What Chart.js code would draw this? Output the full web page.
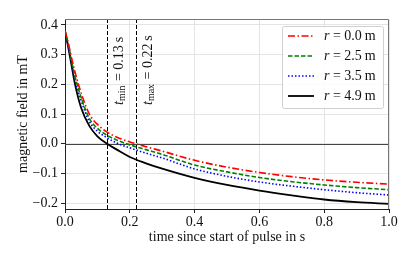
<!DOCTYPE html>
<html>
<head>
<meta charset="utf-8">
<script src="https://cdn.jsdelivr.net/npm/chart.js@4.4.1/dist/chart.umd.min.js"></script>
<style>
  html, body { margin: 0; padding: 0; background: #fff; }
  #wrap { width: 415px; height: 260px; }
</style>
</head>
<body>
<div id="wrap"><canvas id="chart"></canvas></div>
<script>
// time since start of pulse (s)
const times = [0, 0.01, 0.02, 0.03, 0.05, 0.075, 0.1, 0.13, 0.16, 0.2, 0.25, 0.3, 0.4, 0.5, 0.6, 0.7, 0.8, 0.9, 1.0];

// magnetic field in mT
const field_r00 = [0.38, 0.34, 0.29, 0.245, 0.17, 0.10, 0.065, 0.039, 0.022, 0.006, -0.01, -0.025, -0.056, -0.079, -0.097, -0.111, -0.122, -0.130, -0.136];
const field_r25 = [0.38, 0.335, 0.28, 0.23, 0.155, 0.085, 0.052, 0.028, 0.012, -0.004, -0.02, -0.036, -0.072, -0.095, -0.114, -0.128, -0.139, -0.148, -0.155];
const field_r35 = [0.38, 0.33, 0.275, 0.22, 0.145, 0.075, 0.042, 0.02, 0.002, -0.014, -0.032, -0.048, -0.085, -0.11, -0.129, -0.143, -0.155, -0.165, -0.173];
const field_r49 = [0.38, 0.325, 0.265, 0.205, 0.12, 0.06, 0.025, 0.0, -0.02, -0.045, -0.066, -0.084, -0.115, -0.139, -0.158, -0.174, -0.188, -0.197, -0.203];

const radii = ["0.0", "2.5", "3.5", "4.9"];
const markerTimes = [0.13, 0.22];
const markerNames = ["min", "max"];
const xTicks = [0, 0.2, 0.4, 0.6, 0.8, 1.0];
const yTicks = [-0.2, -0.1, 0, 0.1, 0.2, 0.3, 0.4];

const SERIF = "'Liberation Serif', 'DejaVu Serif', serif";
const FS = 14;

function pts(vals) {
  return times.map((t, i) => ({ x: t, y: vals[i] }));
}

function minus(v) {
  return v.toFixed(1).replace("-", "\u2212");
}

const styles = [
  { color: "#ff0000", dash: [7, 2.5, 1.5, 2.5], width: 1.6 },
  { color: "#008000", dash: [4.5, 2], width: 1.6 },
  { color: "#0000ff", dash: [1.5, 2], width: 1.6 },
  { color: "#000000", dash: [], width: 1.8 }
];

const series = [field_r00, field_r25, field_r35, field_r49];

const datasets = series.map((vals, i) => ({
  label: "r = " + radii[i] + " m",
  data: pts(vals),
  borderColor: styles[i].color,
  borderDash: styles[i].dash,
  borderWidth: styles[i].width,
  pointRadius: 0,
  fill: false,
  cubicInterpolationMode: "monotone"
}));

// zero line, t_min / t_max lines, frame and legend
const extras = {
  id: "extras",
  beforeDatasetsDraw(chart) {
    const { ctx, chartArea: a, scales: { x, y } } = chart;
    ctx.save();
    const y0 = Math.round(y.getPixelForValue(0)) + 0.5;
    ctx.strokeStyle = "#444";
    ctx.lineWidth = 1;
    ctx.beginPath();
    ctx.moveTo(a.left, y0);
    ctx.lineTo(a.right, y0);
    ctx.stroke();

    ctx.strokeStyle = "#000";
    ctx.setLineDash([4, 2]);
    markerTimes.forEach(t => {
      const px = Math.round(x.getPixelForValue(t)) + 0.5;
      ctx.beginPath();
      ctx.moveTo(px, a.top);
      ctx.lineTo(px, a.bottom);
      ctx.stroke();
    });
    ctx.setLineDash([]);

    // rotated labels
    markerTimes.forEach((t, i) => {
      const px = x.getPixelForValue(t) + 12;
      ctx.save();
      ctx.translate(px, a.top + 86);
      ctx.rotate(-Math.PI / 2);
      ctx.fillStyle = "#111";
      ctx.textBaseline = "middle";
      ctx.textAlign = "left";
      let cx = 0;
      ctx.font = "italic " + FS + "px " + SERIF;
      ctx.fillText("t", cx, 0);
      cx += ctx.measureText("t").width;
      ctx.font = "10px " + SERIF;
      ctx.fillText(markerNames[i], cx, 3);
      cx += ctx.measureText(markerNames[i]).width + 1;
      ctx.font = FS + "px " + SERIF;
      ctx.fillText(" = " + t.toFixed(2) + "\u2009s", cx, 0);
      ctx.restore();
    });
    ctx.restore();
  },
  afterDraw(chart) {
    const { ctx, chartArea: a } = chart;
    ctx.save();
    // top and right frame
    ctx.strokeStyle = "#777";
    ctx.lineWidth = 1;
    ctx.beginPath();
    ctx.moveTo(a.left, a.top + 0.5);
    ctx.lineTo(a.right - 0.5, a.top + 0.5);
    ctx.lineTo(a.right - 0.5, a.bottom);
    ctx.stroke();

    // legend
    const bw = 101, bh = 82;
    const bx = a.right - 6 - bw, by = a.top + 7;
    ctx.fillStyle = "rgba(255,255,255,0.85)";
    ctx.strokeStyle = "#d0d0d0";
    ctx.beginPath();
    ctx.roundRect(bx + 0.5, by + 0.5, bw, bh, 2);
    ctx.fill();
    ctx.stroke();
    chart.data.datasets.forEach((ds, i) => {
      const ry = by + 10 + i * 20;
      ctx.strokeStyle = ds.borderColor;
      ctx.lineWidth = ds.borderWidth;
      ctx.setLineDash(ds.borderDash);
      ctx.beginPath();
      ctx.moveTo(bx + 6, ry);
      ctx.lineTo(bx + 32, ry);
      ctx.stroke();
      ctx.setLineDash([]);
      ctx.fillStyle = "#111";
      ctx.textBaseline = "middle";
      ctx.textAlign = "left";
      ctx.font = "italic " + FS + "px " + SERIF;
      let tx = bx + 42;
      ctx.fillText("r", tx, ry);
      tx += ctx.measureText("r").width;
      ctx.font = FS + "px " + SERIF;
      ctx.fillText(" = " + radii[i] + "\u2009m", tx, ry);
    });
    ctx.restore();
  }
};

new Chart(document.getElementById("chart"), {
  type: "line",
  data: { datasets: datasets },
  options: {
    responsive: true,
    maintainAspectRatio: false,
    animation: false,
    layout: { padding: { top: 19, right: 26, left: 0, bottom: 11 } },
    plugins: {
      legend: { display: false },
      tooltip: { enabled: false }
    },
    scales: {
      x: {
        type: "linear",
        min: 0,
        max: 1,
        afterBuildTicks: s => { s.ticks = xTicks.map(v => ({ value: v })); },
        afterFit: s => { s.height = 40; },
        ticks: {
          color: "#111",
          font: { family: SERIF, size: FS },
          padding: 1,
          maxRotation: 0,
          callback: v => minus(v)
        },
        grid: { color: "#e4e4e4", tickColor: "#222", tickLength: 4 },
        border: { color: "#222", width: 1 },
        title: {
          display: true,
          text: "time since start of pulse in s",
          color: "#111",
          font: { family: SERIF, size: FS },
          padding: { top: 0, bottom: 3 }
        }
      },
      y: {
        min: -0.22,
        max: 0.42,
        afterBuildTicks: s => { s.ticks = yTicks.map(v => ({ value: v })); },
        afterFit: s => { s.width = 65; },
        ticks: {
          color: "#111",
          font: { family: SERIF, size: FS },
          padding: 3,
          callback: v => minus(v)
        },
        grid: { color: "#e4e4e4", tickColor: "#222", tickLength: 4 },
        border: { color: "#222", width: 1 },
        title: {
          display: true,
          text: "magnetic field in mT",
          color: "#111",
          font: { family: SERIF, size: FS },
          padding: { top: 15, bottom: 0 }
        }
      }
    }
  },
  plugins: [extras]
});
</script>
</body>
</html>
